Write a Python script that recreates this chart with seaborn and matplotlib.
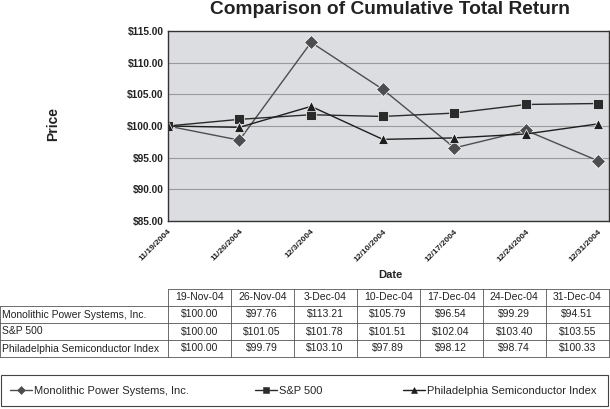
import pandas as pd
import numpy as np
import seaborn as sns
import matplotlib.pyplot as plt
from matplotlib.patches import Rectangle
from matplotlib.lines import Line2D

# data
dates = ["11/19/2004", "11/26/2004", "12/3/2004", "12/10/2004",
         "12/17/2004", "12/24/2004", "12/31/2004"]
date_cols = ["19-Nov-04", "26-Nov-04", "3-Dec-04", "10-Dec-04",
             "17-Dec-04", "24-Dec-04", "31-Dec-04"]
series = ["Monolithic Power Systems, Inc.", "S&P 500",
          "Philadelphia Semiconductor Index"]
mps = [100.00, 97.76, 113.21, 105.79, 96.54, 99.29, 94.51]
sp500 = [100.00, 101.05, 101.78, 101.51, 102.04, 103.40, 103.55]
sox = [100.00, 99.79, 103.10, 97.89, 98.12, 98.74, 100.33]

values = {series[0]: mps, series[1]: sp500, series[2]: sox}
rows = []
for name, vals in values.items():
    for i, v in enumerate(vals):
        rows.append({"pos": i, "date": dates[i], "series": name, "price": v})
df = pd.DataFrame(rows)

sns.set_theme(style="white")
plt.rcParams['font.family'] = ['Liberation Sans', 'DejaVu Sans']

colors = {series[0]: "#4d4d4f", series[1]: "#2b2b2b", series[2]: "#1e1e1e"}
markers = {series[0]: "D", series[1]: "s", series[2]: "^"}

fig = plt.figure(figsize=(6.1, 4.09), dpi=100)
ax = fig.add_axes([167.7 / 610, 1 - 221 / 409, (609 - 167.7) / 610, 190 / 409])

sns.lineplot(data=df, x="pos", y="price", hue="series", style="series",
             palette=colors, markers=markers, dashes=False, markersize=7.5,
             linewidth=1.0, markeredgewidth=0.5, legend=False, ax=ax)

ax.set_facecolor("#dcdde0")
ax.set_xlim(0, 6.155)
ax.set_ylim(85, 115)
ax.set_yticks(np.arange(85, 116, 5))
ax.set_yticklabels([f"${t:.2f}" for t in np.arange(85, 116, 5)],
                   fontsize=7.3, fontweight="bold", color="#222")
for yv in range(90, 115, 5):
    ax.axhline(yv, color="#9a9a9a", lw=0.8, zorder=0)
ax.set_xticks(range(len(dates)))
ax.set_xticklabels(dates, rotation=45, ha="right", rotation_mode="anchor",
                   fontsize=6, fontweight="bold", color="#222")
ax.tick_params(axis="x", length=3, width=0.6, color="#333", pad=2)
ax.tick_params(axis="y", length=0, pad=3)
for sp in ax.spines.values():
    sp.set_color("#333")
    sp.set_linewidth(1.0)
ax.set_xlabel("")
ax.set_ylabel("")

fig.text(390 / 610, 1 - 10 / 409, "Comparison of Cumulative Total Return",
         ha="center", va="center", fontsize=13.8, fontweight="bold", color="#222")
fig.text(53 / 610, 1 - 124 / 409, "Price", rotation=90, ha="center",
         va="center", fontsize=10, fontweight="bold", color="#222")
fig.text(390 / 610, 1 - 275 / 409, "Date", ha="center", va="center",
         fontsize=8, fontweight="bold", color="#222")

# data table under the chart
tab = fig.add_axes([0, 0, 1, 1])
tab.set_xlim(0, 610)
tab.set_ylim(409, 0)
tab.axis("off")
col_x = [167.7 + 63 * i for i in range(8)]
row_y = [289 + 17 * i for i in range(5)]
lc = "#555"
tab.plot([col_x[0], col_x[-1]], [row_y[0], row_y[0]], color=lc, lw=0.6)
for y in row_y[1:]:
    tab.plot([0, col_x[-1]], [y, y], color=lc, lw=0.6)
for x in col_x:
    tab.plot([x, x], [row_y[0], row_y[-1]], color=lc, lw=0.6)
tab.plot([0, 0], [row_y[1], row_y[-1]], color=lc, lw=0.6)
fs_tab = 7.5
for j, c in enumerate(date_cols):
    tab.text((col_x[j] + col_x[j + 1]) / 2, (row_y[0] + row_y[1]) / 2, c,
             ha="center", va="center", fontsize=fs_tab, color="#222")
for i, name in enumerate(series):
    yc = (row_y[i + 1] + row_y[i + 2]) / 2
    tab.text(2.5, yc, name, ha="left", va="center", fontsize=fs_tab, color="#222")
    for j, v in enumerate(values[name]):
        tab.text((col_x[j] + col_x[j + 1]) / 2, yc, f"${v:.2f}",
                 ha="center", va="center", fontsize=fs_tab, color="#222")

# legend box, one entry per series at its own spot
tab.add_patch(Rectangle((1, 375), 607, 31, fill=False, ec="#444", lw=0.8))
leg_x = [10, 255, 403]
for s, lx in zip(series, leg_x):
    h = Line2D([0], [0], color=colors[s], marker=markers[s], lw=1.0,
               markersize=4.2, markeredgewidth=0.4)
    lg = fig.legend([h], [s], loc="center left", frameon=False,
                    bbox_to_anchor=((lx - 4.4) / 610, 1 - 390.5 / 409),
                    fontsize=8, handlelength=2.0, handletextpad=0.2,
                    borderpad=0.4, borderaxespad=0)

fig.savefig("out.png", dpi=100)
